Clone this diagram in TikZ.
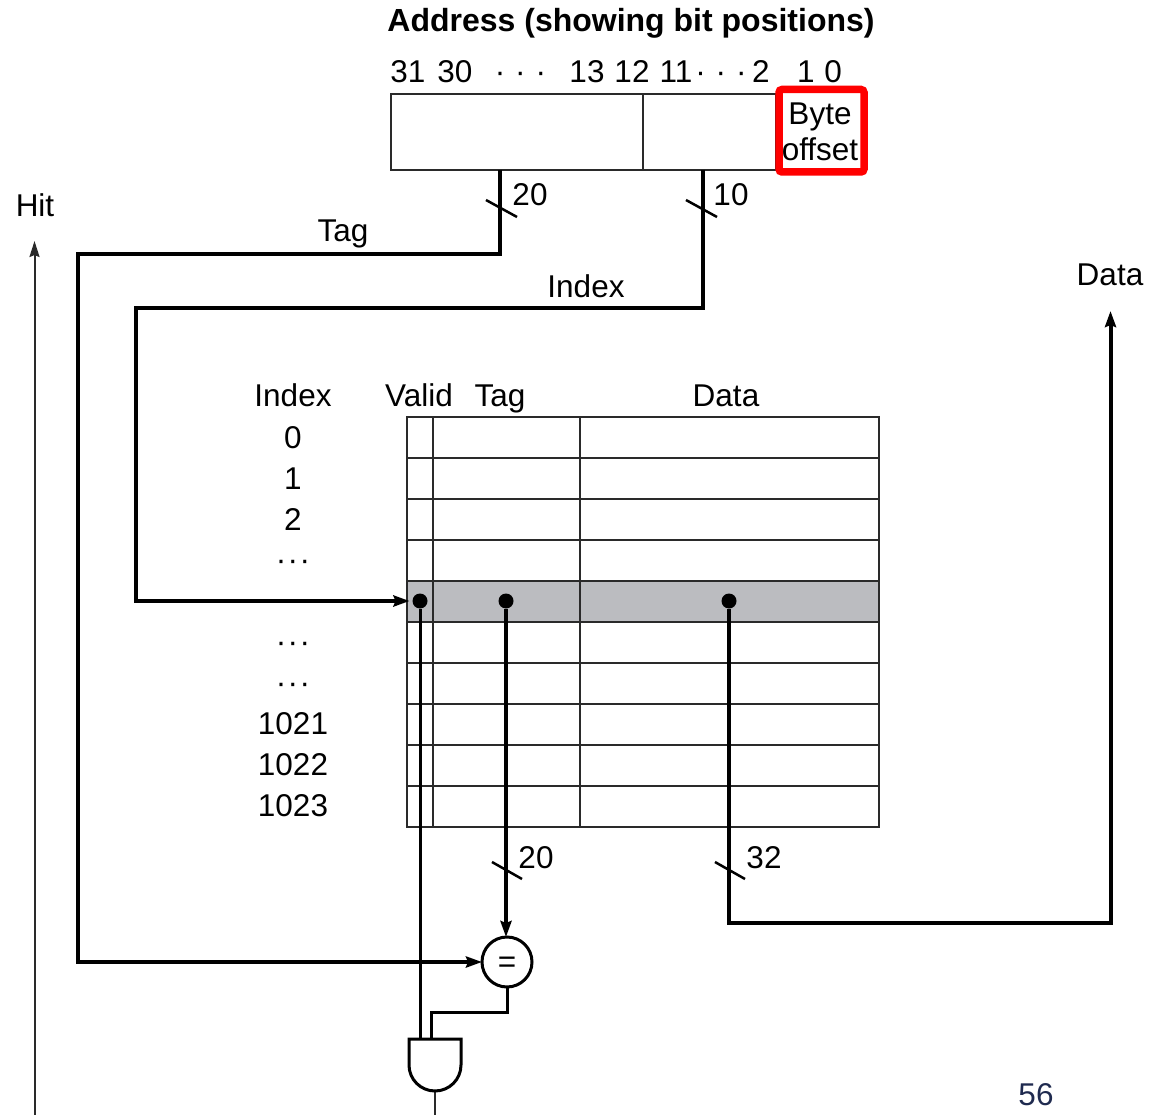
\documentclass[tikz,border=0pt]{standalone}
\usepackage{fontspec}
\setmainfont{Liberation Sans}
\usepackage{xcolor}
\definecolor{cLine}{HTML}{2A2A2A}
\definecolor{cWire}{HTML}{000000}
\definecolor{cRow}{HTML}{BBBCC0}
\definecolor{cMark}{HTML}{FF0000}
\definecolor{cPage}{HTML}{1F2A4F}
\usepackage{tikz}
\usetikzlibrary{positioning,arrows.meta}
\tikzset{
  node-label/.style={inner sep=0pt,outer sep=0pt,text height=22pt,text depth=0pt,
    font=\fontsize{31.5}{36}\selectfont},
  node-field/.style={draw=cLine,line width=2pt,inner sep=0pt,outer sep=0pt,minimum height=76pt},
  node-mark/.style={draw=cMark,line width=7.5pt,rounded corners=3pt,inner sep=0pt,outer sep=0pt,
    minimum width=85pt,minimum height=82.5pt},
  node-text/.style={inner sep=0pt,outer sep=0pt,align=center,font=\fontsize{31.5}{36}\selectfont},
  node-dot/.style={circle,fill=cWire,inner sep=0pt,outer sep=0pt,minimum size=15pt},
  node-cmp/.style={draw=cWire,line width=3pt,circle,fill=white,inner sep=0pt,outer sep=0pt,
    minimum size=50pt,text height=21pt,text depth=0pt,font=\fontsize{31.5}{36}\selectfont},
  grid-line/.style={draw=cLine,line width=2pt},
  wire/.style={draw=cWire,line width=4pt},
  wire-thin/.style={draw=cWire,line width=3pt},
  wire-hair/.style={draw=cLine,line width=2pt},
  arrow/.style={wire,-{Stealth[length=16pt,width=11pt,inset=2pt]}},
  arrow-thin/.style={wire-hair,-{Stealth[length=16pt,width=10pt,inset=2pt]}},
  slash/.style={draw=cWire,line width=2.5pt},
}
\newcommand{\bitdots}{·\hspace{10pt}·\hspace{10pt}·}
\newcommand{\rowdots}{·\hspace{1.5pt}·\hspace{1.5pt}·}
\begin{document}
\begin{tikzpicture}[x=1pt,y=-1pt,node distance=41pt,on grid]
  \useasboundingbox (0,0) rectangle (1162,1115);
  \node[node-label,font=\fontsize{32}{36}\selectfont\bfseries] (title) at (631,21) {Address (showing bit positions)};

  % bit positions
  \node[node-label] (bit-31) at (408,72) {31};
  \node[node-label] (bit-30) at (455,72) {30};
  \node[node-label] (bit-d1) at (520.5,72) {\bitdots};
  \node[node-label] (bit-13) at (587,72) {13};
  \node[node-label] (bit-12) at (632,72) {12};
  \node[node-label] (bit-11) at (676,72) {11};
  \node[node-label] (bit-d2) at (721,72) {\bitdots};
  \node[node-label] (bit-2) at (761,72) {2};
  \node[node-label] (bit-1) at (806,72) {1};
  \node[node-label] (bit-0) at (833,72) {0};

  \node[node-field,minimum width=252pt] (addr-tag) at (517,132) {};
  \node[node-field,minimum width=133pt] (addr-index) at (709.5,132) {};
  \node[node-mark] (addr-byte) at (821.5,130.75) {};
  \node[node-text] (byte-text) at (820,131.75) {Byte\\offset};

  % table
  \fill[cRow] (407,581) rectangle (879,622);
  \draw[grid-line] (407,417) rectangle (879,827);
  \draw[grid-line] (433,417) -- (433,827);
  \draw[grid-line] (580,417) -- (580,827);
  \foreach \y in {458,499,540,581,622,663,704,745,786}
    \draw[grid-line] (407,\y) -- (879,\y);

  \node[node-label] (head-index) at (293,395) {Index};
  \node[node-label] (head-valid) at (419,395) {Valid};
  \node[node-label] (head-tag) at (500,395) {Tag};
  \node[node-label] (head-data) at (726,395) {Data};
  \node[node-label,below=42pt of head-index] (row-0) {0};
  \node[node-label,below=of row-0] (row-1) {1};
  \node[node-label,below=of row-1] (row-2) {2};
  \node[node-label,below=40pt of row-2] (row-d1) {\rowdots};
  \node[node-label,below=82pt of row-d1] (row-d2) {\rowdots};
  \node[node-label,below=of row-d2] (row-d3) {\rowdots};
  \node[node-label,below=of row-d3] (row-1021) {1021};
  \node[node-label,below=of row-1021] (row-1022) {1022};
  \node[node-label,below=of row-1022] (row-1023) {1023};

  \node[node-dot] (dot-valid) at (420,601) {};
  \node[node-dot] (dot-tag) at (506,601) {};
  \node[node-dot] (dot-data) at (729,601) {};
  \node[node-cmp] (cmp) at (507,962) {=};

  \coordinate (tag-out) at (500,170);
  \coordinate (tag-bend) at (78,254);
  \coordinate (index-out) at (703,170);
  \coordinate (index-bend) at (136,308);
  \coordinate (data-bend) at (1110.5,923);
  \coordinate (data-end) at (1110.5,311);
  \coordinate (hit-start) at (34.5,1115);
  \coordinate (hit-end) at (34.5,241);
  \coordinate (gate-a) at (420,1039);
  \coordinate (gate-b) at (431,1039);
  \coordinate (gate-out) at (435,1091);
  \coordinate (gate-end) at (435,1115);
  \coordinate (cmp-bend) at (431,1012);

  % wires
  \draw[arrow] (tag-out) |- (tag-bend) |- (cmp.west);
  \draw[arrow,shorten >=3pt] (index-out) |- (index-bend) |- (dot-valid.west);
  \draw[arrow] (dot-tag) -- (dot-tag |- cmp.north);
  \draw[arrow] (dot-data) |- (data-bend) -- (data-end);
  \draw[wire-thin] (dot-valid) -- (gate-a);
  \draw[wire-thin] (cmp.south) |- (cmp-bend) -- (gate-b);
  \draw[wire-hair] (gate-out) -- (gate-end);
  \draw[arrow-thin] (hit-start) -- (hit-end);

  % and gate
  \draw[wire-thin,line join=miter] (409,1039) -- (461,1039) -- (461,1065)
    arc[start angle=0,end angle=-180,radius=26pt] -- cycle;

  % bus marks
  \draw[slash] (486,200) -- (517,217);
  \draw[slash] (686,200) -- (717,217);
  \draw[slash] (492,862) -- (522,879);
  \draw[slash] (715,862) -- (745,879);

  \node[node-label] (hit) at (35,206) {Hit};
  \node[node-label] (lbl-tag) at (343,231) {Tag};
  \node[node-label] (lbl-20a) at (530,195) {20};
  \node[node-label] (lbl-10) at (731,195) {10};
  \node[node-label] (lbl-index) at (586,287) {Index};
  \node[node-label] (lbl-data) at (1110,275) {Data};
  \node[node-label] (lbl-20b) at (536,857) {20};
  \node[node-label] (lbl-32) at (764,857) {32};
  \node[node-label,text=cPage] (page) at (1036,1094) {56};
\end{tikzpicture}
\end{document}
